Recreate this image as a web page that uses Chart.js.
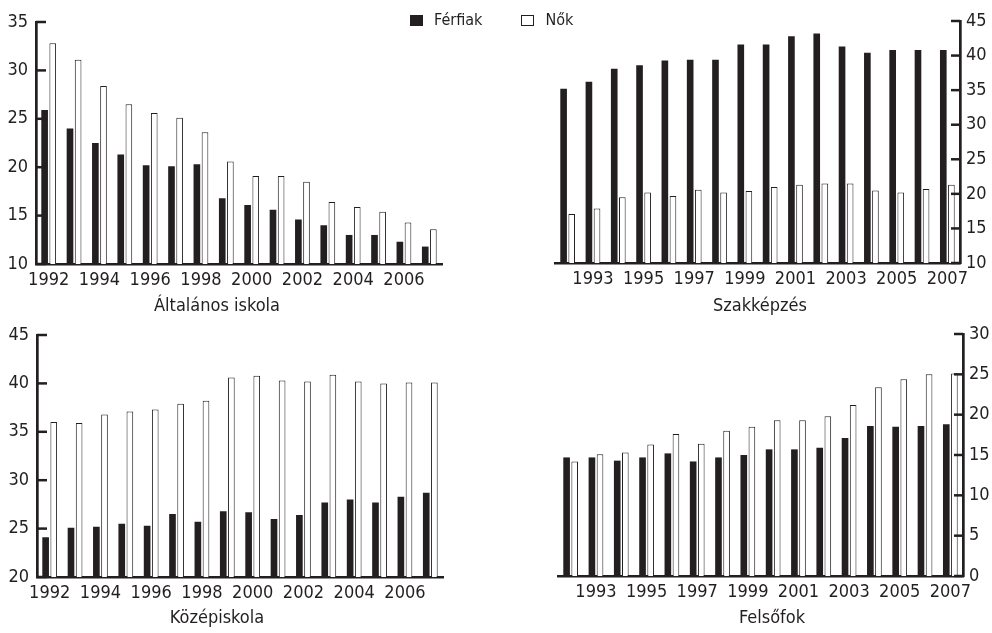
<!DOCTYPE html>
<html>
<head>
<meta charset="utf-8">
<script src="https://cdn.jsdelivr.net/npm/chart.js@4"></script>
<style>
  body { margin: 0; background: #fff; }
  #wrap { position: relative; width: 992px; height: 633px; overflow: hidden;
    font-family: 'Liberation Sans Narrow', 'DejaVu Sans Condensed', sans-serif; color: #231f20; }
  canvas { position: absolute; }
  .title { position: absolute; width: 240px; text-align: center; font-size: 18px; line-height: 24px; }
  #legend { position: absolute; top: 8px; left: 410px; font-size: 16px; line-height: 24px; white-space: nowrap; }
  #legend span.box { display: inline-block; width: 13px; height: 11px; box-sizing: border-box;
    border: 1px solid #231f20; vertical-align: -1px; margin-right: 11px; }
</style>
</head>
<body>
<div id="wrap">
  <canvas id="c-alt" style="left:0;top:0" width="496" height="316"></canvas>
  <canvas id="c-szak" style="left:496px;top:0" width="496" height="316"></canvas>
  <canvas id="c-koz" style="left:0;top:316px" width="496" height="317"></canvas>
  <canvas id="c-fel" style="left:496px;top:316px" width="496" height="317"></canvas>

  <div class="title" style="left:97px;top:293px">Általános iskola</div>
  <div class="title" style="left:640px;top:293px">Szakképzés</div>
  <div class="title" style="left:97px;top:605px">Középiskola</div>
  <div class="title" style="left:652px;top:605px">Felsőfok</div>

  <div id="legend">
    <span class="box" style="background:#231f20"></span>Férfiak<span style="display:inline-block;width:39px"></span><span class="box" style="background:#fff"></span>Nők
  </div>
</div>

<script>
'use strict';

// ************* Data **************
let years = ['1992', '1993', '1994', '1995', '1996', '1997', '1998', '1999',
  '2000', '2001', '2002', '2003', '2004', '2005', '2006', '2007'];

let altFerfi = [25.9, 24.0, 22.5, 21.3, 20.2, 20.1, 20.3, 16.8, 16.1, 15.6, 14.6, 14.0, 13.0, 13.0, 12.3, 11.8];
let altNo = [32.8, 31.1, 28.4, 26.5, 25.6, 25.1, 23.6, 20.6, 19.1, 19.1, 18.5, 16.4, 15.9, 15.4, 14.3, 13.6];

let szakFerfi = [35.2, 36.2, 38.1, 38.6, 39.3, 39.4, 39.4, 41.6, 41.6, 42.8, 43.2, 41.3, 40.4, 40.8, 40.8, 40.8];
let szakNo = [17.1, 17.9, 19.5, 20.2, 19.7, 20.6, 20.2, 20.4, 21.0, 21.3, 21.5, 21.5, 20.5, 20.2, 20.7, 21.3];

let kozFerfi = [24.1, 25.1, 25.2, 25.5, 25.3, 26.5, 25.7, 26.8, 26.7, 26.0, 26.4, 27.7, 28.0, 27.7, 28.3, 28.7];
let kozNo = [36.0, 35.9, 36.8, 37.1, 37.3, 37.9, 38.2, 40.6, 40.8, 40.3, 40.2, 40.9, 40.2, 40.0, 40.1, 40.1];

let felFerfi = [14.7, 14.7, 14.3, 14.7, 15.2, 14.2, 14.7, 15.0, 15.7, 15.7, 15.9, 17.1, 18.6, 18.5, 18.6, 18.8];
let felNo = [14.2, 15.1, 15.3, 16.3, 17.6, 16.4, 18.0, 18.5, 19.3, 19.3, 19.8, 21.2, 23.4, 24.4, 25.0, 25.1];

// ************* Style **************
const INK = '#231f20';
const FONT = "'Liberation Sans Narrow', 'DejaVu Sans Condensed', sans-serif";

// short tick marks pointing into the plot
const inwardTicks = {
  id: 'inwardTicks',
  afterDraw(chart) {
    let yScale = chart.scales.y;
    let ctx = chart.ctx;
    let onRight = yScale.position === 'right';
    let x0 = onRight ? chart.chartArea.right : chart.chartArea.left;
    let len = onRight ? -9 : 10;
    ctx.save();
    ctx.strokeStyle = INK;
    ctx.lineWidth = 2.5;
    yScale.ticks.forEach(function(t){
      let py = yScale.getPixelForValue(t.value);
      ctx.beginPath();
      ctx.moveTo(x0, py);
      ctx.lineTo(x0 + len, py);
      ctx.stroke();
    });
    ctx.restore();
  }
};

// ************* Chart builder **************
function makeChart(id, men, women, opt){
  let canvasElem = document.getElementById(id);
  return new Chart(canvasElem, {
    type: 'bar',
    data: {
      labels: years,
      datasets: [{
        label: 'Férfiak',
        data: men,
        backgroundColor: INK,
        borderWidth: 0,
        categoryPercentage: 0.64,
        barPercentage: 0.82
      },
      {
        label: 'Nők',
        data: women,
        backgroundColor: '#fff',
        borderColor: INK,
        borderWidth: 1,
        categoryPercentage: 0.64,
        barPercentage: 0.82
      }]
    },
    options: {
      responsive: false,
      animation: false,
      events: [],
      layout: { padding: opt.padding },
      plugins: { legend: { display: false }, tooltip: { enabled: false } },
      scales: {
        x: {
          grid: { display: false, drawTicks: false },
          border: { display: true, color: INK, width: 2.5 },
          afterFit: function(s){ s.height = opt.xHeight; },
          ticks: {
            autoSkip: false,
            maxRotation: 0,
            padding: 6,
            color: INK,
            font: { family: FONT, size: 18 },
            callback: function(val, i){
              return i % 2 === opt.labelMod ? years[i] : '';
            }
          }
        },
        y: {
          position: opt.side,
          min: opt.min,
          max: opt.max,
          grid: { display: false, drawTicks: false },
          border: { display: true, color: INK, width: 2.7 },
          afterFit: function(s){ s.width = opt.yWidth; },
          ticks: {
            stepSize: 5,
            padding: opt.side === 'right' ? 6 : 8,
            color: INK,
            font: { family: FONT, size: 18 }
          }
        }
      }
    },
    plugins: [inwardTicks]
  });
}

makeChart('c-alt', altFerfi, altNo, {
  side: 'left', min: 10, max: 35, labelMod: 0,
  padding: { left: 0, right: 54, top: 22, bottom: 0 }, yWidth: 36, xHeight: 52
});

makeChart('c-szak', szakFerfi, szakNo, {
  side: 'right', min: 10, max: 45, labelMod: 1,
  padding: { left: 59, right: 0, top: 21, bottom: 0 }, yWidth: 32, xHeight: 53
});

makeChart('c-koz', kozFerfi, kozNo, {
  side: 'left', min: 20, max: 45, labelMod: 0,
  padding: { left: 0, right: 53, top: 19, bottom: 0 }, yWidth: 37, xHeight: 56
});

makeChart('c-fel', felFerfi, felNo, {
  side: 'right', min: 0, max: 30, labelMod: 1,
  padding: { left: 62, right: 0, top: 18, bottom: 0 }, yWidth: 29, xHeight: 57
});
</script>
</body>
</html>
